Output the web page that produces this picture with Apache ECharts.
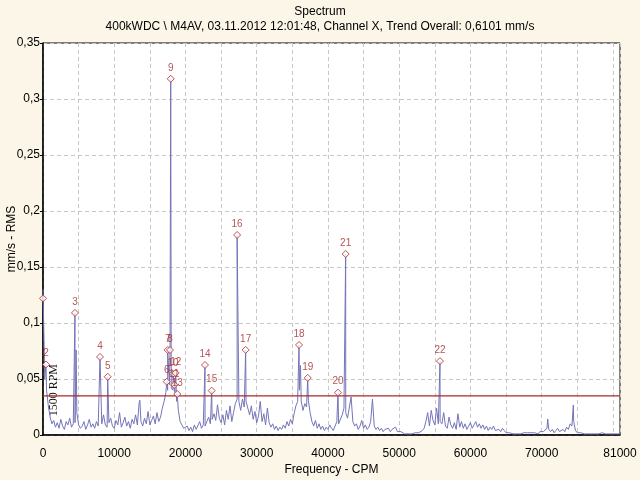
<!DOCTYPE html>
<html>
<head>
<meta charset="utf-8">
<script src="https://cdn.jsdelivr.net/npm/echarts@6/dist/echarts.min.js"></script>
<style>
html,body{margin:0;padding:0;background:#FCF6E8;}
#c{width:640px;height:480px;}
</style>
</head>
<body>
<div id="c"></div>
<script>
// ---- data ----
const titleMain = 'Spectrum';
const titleSub = '400kWDC \\ M4AV, 03.11.2012 12:01:48, Channel X, Trend Overall: 0,6101 mm/s';
const xAxisName = 'Frequency - CPM';
const yAxisName = 'mm/s - RMS';
const xTickLabels = [0, 10000, 20000, 30000, 40000, 50000, 60000, 70000, 81000];
const yTickLabels = [0, 0.05, 0.1, 0.15, 0.2, 0.25, 0.3, 0.35];
const alarmLevel = 0.035;
const rpmText = '1500 RPM';

// spectrum floor, one value per 250 CPM bin (0 .. 81000 CPM)
const binStep = 250;
const floorAmp = [
  0.130,0.050,0.040,0.026,0.016,0.010,0.013,0.007,0.011,0.006,0.014,0.008,0.005,0.012,0.009,0.015,0.007,0.010,0.011,0.020,
  0.009,0.006,0.008,0.012,0.005,0.009,0.014,0.007,0.010,0.006,0.012,0.008,0.008,0.010,0.018,0.009,0.007,0.011,0.015,0.008,
  0.006,0.013,0.009,0.020,0.007,0.011,0.016,0.008,0.012,0.006,0.014,0.010,0.018,0.009,0.029,0.012,0.008,0.015,0.010,0.021,
  0.009,0.013,0.017,0.010,0.020,0.012,0.016,0.024,0.030,0.038,0.040,0.045,0.042,0.040,0.038,0.030,0.022,0.012,0.009,0.006,
  0.005,0.008,0.004,0.007,0.003,0.009,0.005,0.006,0.012,0.006,0.009,0.008,0.012,0.016,0.010,0.014,0.019,0.013,0.027,0.015,
  0.011,0.018,0.009,0.022,0.014,0.026,0.012,0.020,0.028,0.032,0.030,0.022,0.032,0.025,0.030,0.030,0.018,0.026,0.014,0.021,
  0.011,0.017,0.030,0.012,0.019,0.009,0.024,0.011,0.007,0.010,0.005,0.008,0.004,0.007,0.005,0.009,0.006,0.012,0.008,0.014,
  0.010,0.019,0.026,0.030,0.040,0.030,0.022,0.028,0.025,0.031,0.020,0.012,0.008,0.013,0.006,0.010,0.005,0.008,0.004,0.007,
  0.005,0.009,0.006,0.004,0.008,0.012,0.010,0.010,0.018,0.024,0.020,0.015,0.015,0.034,0.012,0.008,0.010,0.005,0.008,0.013,
  0.006,0.009,0.005,0.007,0.012,0.032,0.008,0.005,0.007,0.004,0.006,0.003,0.005,0.004,0.006,0.003,0.005,0.004,0.007,0.003,
  0.002,0.003,0.002,0.001,0.002,0.001,0.002,0.001,0.002,0.002,0.003,0.002,0.003,0.004,0.006,0.012,0.020,0.008,0.022,0.013,
  0.009,0.024,0.010,0.012,0.010,0.020,0.008,0.006,0.016,0.009,0.006,0.011,0.005,0.019,0.007,0.012,0.006,0.010,0.005,0.008,
  0.011,0.006,0.009,0.012,0.007,0.010,0.006,0.009,0.005,0.008,0.004,0.007,0.005,0.008,0.004,0.003,0.005,0.003,0.006,0.004,
  0.002,0.003,0.002,0.002,0.001,0.002,0.001,0.002,0.001,0.001,0.002,0.001,0.002,0.001,0.002,0.001,0.002,0.002,0.001,0.003,
  0.002,0.003,0.004,0.006,0.005,0.003,0.005,0.002,0.004,0.006,0.003,0.004,0.005,0.003,0.007,0.005,0.010,0.008,0.012,0.004,
  0.002,0.001,0.002,0.001,0.001,0.002,0.001,0.001,0.001,0.002,0.001,0.001,0.001,0.001,0.002,0.001,0.001,0.001,0.001,0.001,
  0.001,0.001,0.001,0.001,0.001
];

// other (unmarked) spectral lines
const lineCpm = [4650, 13600, 36150, 70850, 74450];
const lineAmp = [0.076, 0.031, 0.062, 0.0143, 0.0268];

// marked peaks
const markerLabels = ['1','2','3','4','5','6','7','8','9','10','11','12','13','14','15','16','17','18','19','20','21','22'];
const markerCpm = [0, 420, 4490, 8000, 9080, 17370, 17500, 17830, 17930, 18250, 18430, 18630, 18850, 22740, 23680, 27250, 28450, 35940, 37160, 41410, 42490, 55730];
const markerAmp = [0.122, 0.063, 0.109, 0.0697, 0.052, 0.0476, 0.0759, 0.0759, 0.318, 0.0545, 0.0447, 0.0554, 0.0366, 0.0625, 0.0396, 0.1786, 0.076, 0.0804, 0.051, 0.0378, 0.1616, 0.066];

// ---- build ----
const spectrum = floorAmp.map((v, i) => [i * binStep, v]);
lineCpm.forEach((c, i) => spectrum.push([c, lineAmp[i]]));
markerCpm.forEach((c, i) => { if (i > 0) spectrum.push([c, markerAmp[i]]); });
spectrum.sort((a, b) => a[0] - b[0]);

const markerData = markerCpm.map((c, i) => ({
  name: markerLabels[i], value: [c, markerAmp[i]],
  label: { show: i > 0 }
}));

const xMax = xTickLabels[xTickLabels.length - 1];
const fmtY = v => String(Math.round(v * 100) / 100).replace('.', ',');

const chart = echarts.init(document.getElementById('c'), null, { renderer: 'canvas' });
chart.setOption({
  backgroundColor: '#FCF6E8',
  animation: false,
  title: {
    text: titleMain, subtext: titleSub, left: 'center', top: 1, itemGap: 3,
    textStyle: { fontFamily: 'Liberation Sans, Arial', fontSize: 12, fontWeight: 'normal', color: '#000' },
    subtextStyle: { fontFamily: 'Liberation Sans, Arial', fontSize: 12, color: '#000' }
  },
  grid: { left: 43, right: 20, top: 43, bottom: 45, containLabel: false, outerBoundsMode: 'none',
    show: true, backgroundColor: '#fff', borderColor: '#000', borderWidth: 1 },
  xAxis: [{
    type: 'value', min: 0, max: xMax, interval: 5000,
    name: xAxisName, nameLocation: 'middle', nameGap: 29, nameMoveOverlap: false,
    nameTextStyle: { fontFamily: 'Liberation Sans, Arial', fontSize: 12, color: '#000' },
    axisLine: { show: true, lineStyle: { color: '#000', width: 1.5 } },
    axisTick: { show: false },
    axisLabel: {
      margin: 13, fontFamily: 'Liberation Sans, Arial', fontSize: 12, color: '#000',
      formatter: v => (xTickLabels.indexOf(v) >= 0 && v !== xMax) ? String(v) : ''
    },
    splitLine: { show: true, lineStyle: { color: '#C8C8C8', type: [4, 3], width: 1 } }
  }, {
    type: 'value', position: 'bottom', min: 0, max: xMax, interval: xMax,
    axisLine: { show: false }, axisTick: { show: false }, splitLine: { show: false },
    axisLabel: {
      margin: 13, fontFamily: 'Liberation Sans, Arial', fontSize: 12, color: '#000',
      showMaxLabel: true, showMinLabel: false,
      formatter: v => v === xMax ? String(v) : ''
    }
  }],
  yAxis: {
    type: 'value', min: 0, max: 0.35, interval: 0.05,
    name: yAxisName, nameLocation: 'middle', nameGap: 25, nameRotate: 90, nameMoveOverlap: false,
    nameTextStyle: { fontFamily: 'Liberation Sans, Arial', fontSize: 12, color: '#000' },
    axisLine: { show: true, lineStyle: { color: '#000', width: 1.5 } },
    axisTick: { show: true, length: 3, lineStyle: { color: '#000' } },
    axisLabel: { margin: 3, fontFamily: 'Liberation Sans, Arial', fontSize: 12, color: '#000', formatter: fmtY },
    splitLine: { show: true, lineStyle: { color: '#C8C8C8', type: [4, 3], width: 1 } }
  },
  graphic: [{
    type: 'text', left: 48, top: 364, rotation: Math.PI / 2,
    style: { text: rpmText, font: '12px "Liberation Serif", "Times New Roman", serif', fill: '#111' }
  }],
  series: [{
    type: 'line', data: spectrum, showSymbol: false, symbol: 'none',
    lineStyle: { color: '#7474B8', width: 1 }, clip: true, z: 2
  }, {
    type: 'line', data: [[0, alarmLevel], [xMax, alarmLevel]], showSymbol: false, symbol: 'none',
    silent: true, lineStyle: { color: '#A52A2A', width: 1.2 }, z: 3
  }, {
    type: 'scatter', data: markerData, symbol: 'diamond', symbolSize: 7,
    itemStyle: { color: '#fff', borderColor: '#B02828', borderWidth: 1 },
    label: { show: true, position: 'top', distance: 2, formatter: p => p.name,
      fontFamily: 'Liberation Sans, Arial', fontSize: 10, color: '#A52A2A' },
    z: 5
  }]
});
</script>
</body>
</html>
